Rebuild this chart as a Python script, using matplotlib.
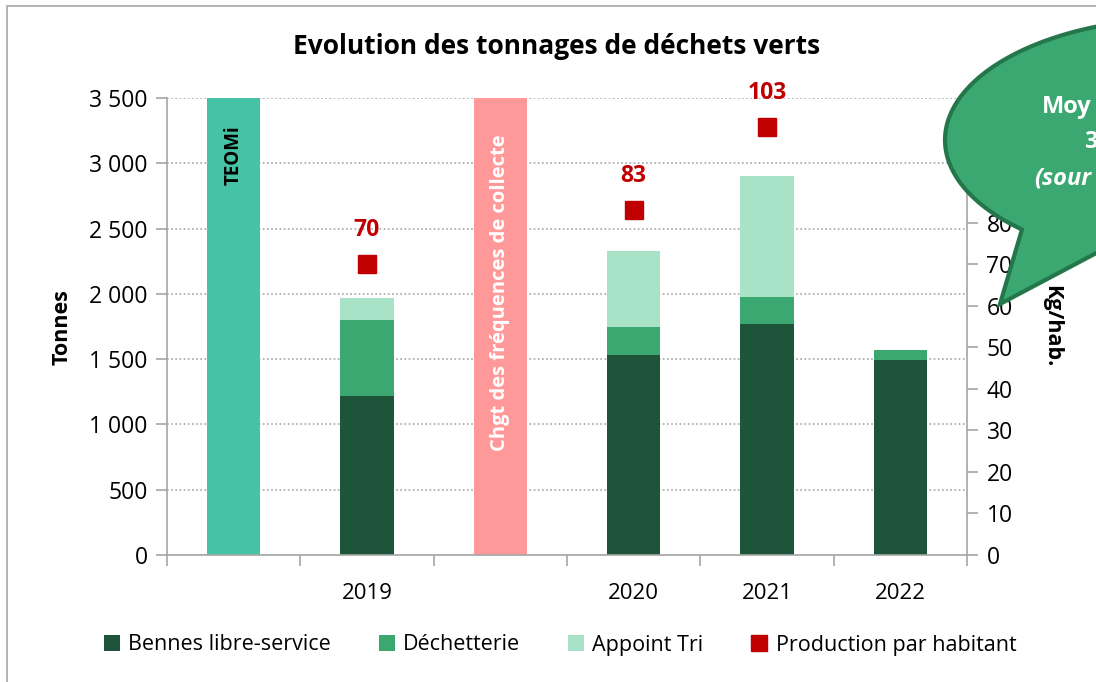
import numpy as np
import matplotlib.pyplot as plt
from matplotlib.ticker import FuncFormatter, MultipleLocator
from matplotlib.path import Path
from matplotlib.patches import PathPatch, Rectangle

plt.rcParams['font.family'] = ['Open Sans', 'DejaVu Sans']

# data
slots = ["", "2019", "", "2020", "2021", "2022"]
bennes = [0, 1220, 0, 1530, 1770, 1490]
dechetterie = [0, 580, 0, 215, 205, 80]
appoint = [0, 170, 0, 585, 925, 0]
teomi = [3500, 0, 0, 0, 0, 0]
chgt = [0, 0, 3500, 0, 0, 0]
prod_slots = [1, 3, 4]
prod_hab = [70, 83, 103]

c_bennes = "#1E553A"
c_dech = "#3AA870"
c_app = "#A9E3C7"
c_teomi = "#45C3A4"
c_chgt = "#FF9999"
c_red = "#C00000"
c_axis = "#A6A6A6"

W, H = 1096, 682
fig = plt.figure(figsize=(W / 100, H / 100), dpi=100)

# outer frame (continues past the right and bottom edges)
fig.patches.append(Rectangle((7 / W, -0.5), 1.2, 1.5 - 6 / H, transform=fig.transFigure,
                             fill=False, edgecolor=c_axis, lw=1.2))

ax = fig.add_axes([167 / W, 1 - 555 / H, 800 / W, 457 / H])
x = np.arange(len(slots))
bw = 0.4

ax.bar(x, teomi, bw, color=c_teomi, zorder=2)
ax.bar(x, chgt, bw, color=c_chgt, zorder=2)
ax.bar(x, bennes, bw, color=c_bennes, zorder=2, label="Bennes libre-service")
b1 = np.array(bennes)
ax.bar(x, dechetterie, bw, bottom=b1, color=c_dech, zorder=2, label="Déchetterie")
b2 = b1 + np.array(dechetterie)
ax.bar(x, appoint, bw, bottom=b2, color=c_app, zorder=2, label="Appoint Tri")

ax.text(0, 3290, "TEOMi", rotation=90, ha="center", va="top", fontsize=13.5,
        fontweight="bold", color="black", zorder=3)
ax.text(2, 2010, "Chgt des fréquences de collecte", rotation=90, ha="center",
        va="center", fontsize=14.5, fontweight="bold", color="white", zorder=3)

ax.set_xlim(-0.5, len(slots) - 0.5)
ax.set_ylim(0, 3500)
ax.yaxis.set_major_locator(MultipleLocator(500))
ax.yaxis.set_major_formatter(FuncFormatter(lambda v, p: f"{int(v):,}".replace(",", " ")))
ax.grid(axis="y", color=c_axis, linestyle=(0, (1, 1.5)), lw=1.2, zorder=0)
ax.set_xticks(x)
ax.set_xticklabels(slots)
ax.set_xticks(np.arange(-0.5, len(slots)), minor=True)
ax.tick_params(axis="x", which="major", length=0, pad=20, labelsize=16)
ax.tick_params(axis="x", which="minor", length=8, color=c_axis, width=1.2)
ax.tick_params(axis="y", length=8, color=c_axis, width=1.2, labelsize=16.5, pad=6)
for s in ["top", "right"]:
    ax.spines[s].set_visible(False)
for s in ["left", "bottom"]:
    ax.spines[s].set_color(c_axis)
    ax.spines[s].set_linewidth(1.2)

ax2 = ax.twinx()
ax2.set_ylim(0, 110)
ax2.yaxis.set_major_locator(MultipleLocator(10))
ax2.plot(prod_slots, prod_hab, linestyle="none", marker="s", markersize=13,
         color=c_red, label="Production par habitant", zorder=4)
for xs, v in zip(prod_slots, prod_hab):
    ax2.annotate(str(v), (xs, v), xytext=(0, 16), textcoords="offset points",
                 ha="center", va="bottom", fontsize=16.5, fontweight="bold", color=c_red)
for s in ["top", "left", "bottom"]:
    ax2.spines[s].set_visible(False)
ax2.spines["right"].set_color(c_axis)
ax2.spines["right"].set_linewidth(1.2)
ax2.tick_params(axis="y", length=8, color=c_axis, width=1.2, labelsize=16.5, pad=6)

fig.text(62 / W, 1 - 327 / H, "Tonnes", rotation=90, ha="center", va="center",
         fontsize=15.5, fontweight="bold")
fig.text(1052 / W, 1 - 326 / H, "Kg/hab.", rotation=-90, ha="center", va="center",
         fontsize=15.5, fontweight="bold")

fig.text(557 / W, 1 - 47 / H, "Evolution des tonnages de déchets verts", ha="center",
         va="center", fontsize=19, fontweight="bold")

h1, l1 = ax.get_legend_handles_labels()
h2, l2 = ax2.get_legend_handles_labels()
fig.legend(h1 + h2, l1 + l2, loc="center", bbox_to_anchor=(560 / W, 1 - 645 / H),
           ncol=4, frameon=False, fontsize=15.5, handlelength=0.75, handleheight=0.75,
           handletextpad=0.4, columnspacing=2.2, markerscale=0.85)

# speech bubble (callout), partly outside the figure on the right
cx, cy, a, b = 1185, 140, 240, 122
tt = np.deg2rad(np.linspace(111.8, -227.2, 300))
arc = [(cx + a * np.cos(t), cy + b * np.sin(t)) for t in tt]
verts = arc + [(1000, 304), arc[0]]
verts = [(vx / W, 1 - vy / H) for vx, vy in verts]
codes = [Path.MOVETO] + [Path.LINETO] * (len(verts) - 2) + [Path.CLOSEPOLY]
fig.patches.append(PathPatch(Path(verts, codes), transform=fig.transFigure,
                             facecolor="#3AA870", edgecolor="#24774B", lw=3, zorder=10))
fig.text(1042 / W, 1 - 107 / H, "Moy", color="white", fontsize=17,
         fontweight="bold", ha="left", va="center", zorder=11)
fig.text(1084 / W, 1 - 142 / H, "3", color="white", fontsize=17,
         fontweight="bold", ha="left", va="center", zorder=11)
fig.text(1034 / W, 1 - 178 / H, "(sour", color="white", fontsize=17,
         fontweight="bold", fontstyle="italic", ha="left", va="center", zorder=11)

fig.savefig("out.png", dpi=100)
